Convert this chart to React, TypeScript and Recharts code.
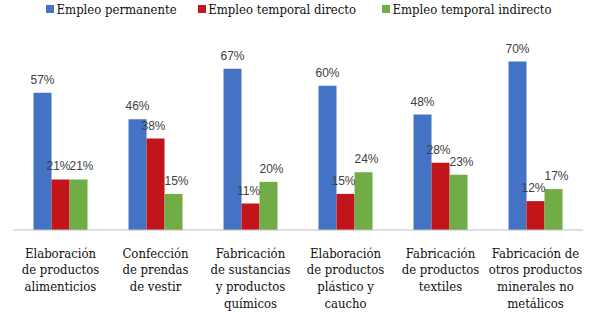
import React from "react";
import { BarChart, Bar, XAxis, YAxis, Legend, LabelList } from "recharts";

const categories: string[][] = [
  ["Elaboración", "de productos", "alimenticios"],
  ["Confección", "de prendas", "de vestir"],
  ["Fabricación", "de sustancias", "y productos", "químicos"],
  ["Elaboración", "de productos", "plástico y", "caucho"],
  ["Fabricación", "de productos", "textiles"],
  ["Fabricación de", "otros productos", "minerales no", "metálicos"],
];
const permanente = [57, 46, 67, 60, 48, 70];
const temporalDirecto = [21, 38, 11, 15, 28, 12];
const temporalIndirecto = [21, 15, 20, 24, 23, 17];
const seriesNames = ["Empleo permanente", "Empleo temporal directo", "Empleo temporal indirecto"];
const seriesColors = ["#4472C4", "#C1151B", "#70AD47"];
const labelShift = [0, -2, 3];

const SERIF = "'DejaVu Serif Condensed', 'DejaVu Serif', serif";
const SANS = "'Liberation Sans', sans-serif";

const data = categories.map((c, i) => ({
  name: c.join(" "),
  permanente: permanente[i],
  directo: temporalDirecto[i],
  indirecto: temporalIndirecto[i],
}));

const CategoryTick = (props: any) => {
  const { x, y, index } = props;
  const lines = categories[index] || [];
  return (
    <g>
      {lines.map((l, i) => (
        <text
          key={i}
          x={x}
          y={y + 27.5 + i * 16.8}
          textAnchor="middle"
          fontFamily={SERIF}
          fontSize={13}
          fill="#111"
        >
          {l}
        </text>
      ))}
    </g>
  );
};

const LegendContent = () => (
  <div
    style={{
      display: "flex",
      alignItems: "center",
      paddingLeft: 46,
      height: 18,
      fontFamily: SERIF,
      fontSize: 13,
      color: "#111",
      whiteSpace: "nowrap",
    }}
  >
    {seriesNames.map((n, i) => (
      <div key={n} style={{ display: "flex", alignItems: "center", marginRight: i === 0 ? 21 : 26 }}>
        <span style={{ display: "inline-block", width: 8, height: 8, background: seriesColors[i], marginRight: 2.5 }} />
        <span>{n}</span>
      </div>
    ))}
  </div>
);

const fmt = (v: any) => `${v}%`;

export default function App() {
  return (
    <div>
      <style>{"body{margin:0}"}</style>
      <BarChart
        width={589}
        height={312}
        data={data}
        margin={{ top: 37.5, right: 6, bottom: 0, left: 13 }}
        barCategoryGap="21.6%"
        barGap={0}
      >
        <XAxis
          dataKey="name"
          height={82}
          tickLine={false}
          tickSize={0}
          tickMargin={0}
          axisLine={{ stroke: "#BFBFBF", strokeWidth: 1.2 }}
          tick={<CategoryTick />}
          interval={0}
        />
        <YAxis hide domain={[0, 80]} />
        <Legend
          verticalAlign="middle"
          align="center"
          layout="horizontal"
          wrapperStyle={{ top: 0, left: 0, width: 589, height: 18 }}
          content={<LegendContent />}
        />
        {(["permanente", "directo", "indirecto"] as const).map((k, i) => (
          <Bar key={k} dataKey={k} name={seriesNames[i]} fill={seriesColors[i]} isAnimationActive={false}>
            <LabelList
              dataKey={k}
              position="top"
              offset={9}
              formatter={fmt}
              fontFamily={SANS}
              fontSize={12}
              fill="#404040"
              dx={labelShift[i]}
            />
          </Bar>
        ))}
      </BarChart>
    </div>
  );
}
